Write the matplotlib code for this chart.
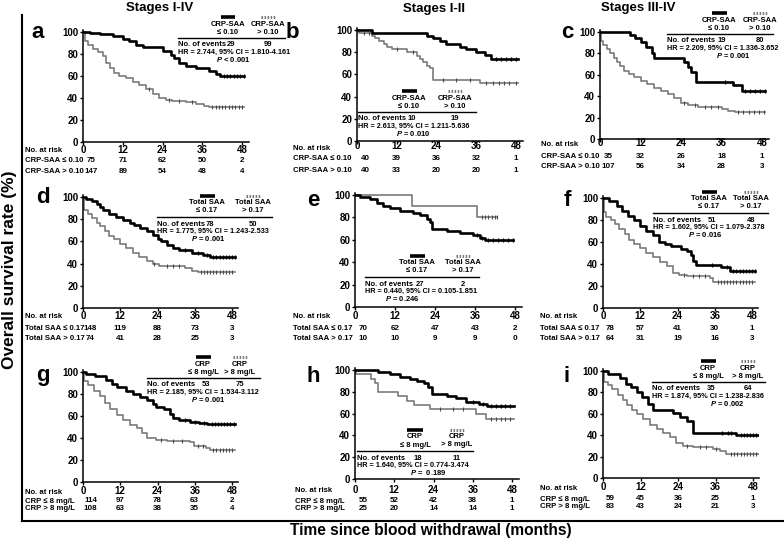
import matplotlib
matplotlib.use("Agg")
import matplotlib.pyplot as plt
from matplotlib.lines import Line2D
from matplotlib.transforms import blended_transform_factory

W, H = 784, 542
plt.rcParams["font.family"] = ["Liberation Sans", "DejaVu Sans"]
plt.rcParams["font.weight"] = "bold"
plt.rcParams["mathtext.fontset"] = "custom"
plt.rcParams["mathtext.it"] = "Liberation Sans:italic:bold"
plt.rcParams["mathtext.rm"] = "Liberation Sans:bold"

MONTHS = [0, 12, 24, 36, 48]
SURV_TICKS = [0, 20, 40, 60, 80, 100]

# ---------------------------------------------------------------------------
# Kaplan-Meier steps: time (months) where survival (%) drops, last = end
# ---------------------------------------------------------------------------
A_LOW_T = [0, 2, 5, 9, 12, 14, 16, 18, 24, 26.5, 27.5, 29, 31, 34, 38, 40, 41.5, 48.5]
A_LOW_S = [100, 99, 98, 96, 94, 92, 88, 86, 83, 79, 76, 72, 69, 67, 65, 62, 60, 60]
A_HIGH_T = [0, 0.5, 1.5, 3, 4.5, 6, 7, 8, 9.5, 11, 13, 15, 17, 19, 21, 23, 25, 27, 31, 34, 36.5, 38, 48.5]
A_HIGH_S = [100, 92, 88, 85, 82, 78, 72, 67, 63, 60, 58, 55, 52, 48, 44, 40, 38, 37, 36, 35, 33, 32, 32]
A_LOW_CENS = [42.5, 43.5, 44.5, 45.5, 46.5, 47.5, 48.5]
A_HIGH_CENS = [20, 26, 29, 33, 39, 40, 41, 42, 43, 44, 45, 46, 47, 48]

B_LOW_T = [0, 4.5, 21, 23, 25, 27, 31, 33, 36, 38.5, 40.5, 48.5]
B_LOW_S = [100, 97.5, 95, 92.5, 90, 87.5, 85, 82.5, 80, 77.5, 74, 74]
B_HIGH_T = [0, 0.5, 4.5, 5.5, 6.5, 8, 9, 10.5, 15, 18, 19, 20, 21, 22, 23, 37, 48.5]
B_HIGH_S = [100, 97.5, 95, 92.5, 90, 87.5, 85, 82.5, 80, 77, 74, 71, 68, 65.5, 55, 52, 52]
B_LOW_CENS = [42, 43.5, 45, 46.5, 48]
B_HIGH_CENS = [2, 3.5, 12, 17, 26, 30, 34, 39, 41, 43, 44.5, 46, 48]

C_LOW_T = [0, 9, 10.5, 12, 13.5, 15.5, 16, 25, 26, 27, 28.5, 39.5, 42, 49]
C_LOW_S = [100, 97, 94, 91, 86, 80, 76, 72, 67, 63, 53, 50, 45, 45]
C_HIGH_T = [0, 0.3, 1, 2, 3, 4, 5, 6, 7, 8.5, 10, 12, 14, 16, 18, 20, 22, 24, 26, 29, 36, 38, 40, 49]
C_HIGH_S = [100, 92, 88, 84, 80, 76, 72, 68, 64, 61, 58, 54, 51, 48, 45, 42, 38, 34, 32, 30, 28, 26, 25, 25]
C_LOW_CENS = [37, 43, 44.5, 46, 47.5, 49]
C_HIGH_CENS = [25, 28, 31, 33, 35, 41, 42.5, 44, 45.5, 47, 48.5]

D_LOW_T = [0, 1, 3, 4.5, 5.5, 6.5, 8.5, 10.5, 13, 15, 16.5, 18.5, 20.5, 22.5, 24, 25, 27, 29, 31, 35, 38.5, 41, 49]
D_LOW_S = [100, 98, 96, 94, 91, 88, 85, 82, 79, 77, 75, 72, 69, 66, 62, 60, 57, 54, 52, 50, 48, 46, 46]
D_HIGH_T = [0, 0.4, 1.5, 3, 4.5, 5.5, 7, 8.5, 10, 12, 14, 16, 18, 20.5, 22.5, 24.5, 33, 35, 37, 49]
D_HIGH_S = [100, 88, 85, 81, 77, 74, 69, 65, 62, 58, 54, 50, 46, 42, 40, 38, 36, 33, 32, 32]
D_LOW_CENS = [33, 37, 40, 42, 43, 44, 45, 46, 47, 48, 49]
D_HIGH_CENS = [23, 27, 29, 31, 38, 39, 40, 41, 42, 43, 44, 45, 46, 47, 48]

E_LOW_T = [0, 1.5, 4.5, 6.5, 8.5, 10.5, 13.5, 17.5, 19.5, 21.5, 22.5, 23, 27.5, 31.5, 35.5, 37.5, 39, 47.5]
E_LOW_S = [100, 98.5, 96, 93, 90, 88, 86, 84, 82, 79, 76, 70, 68, 66, 64, 62, 60, 60]
E_HIGH_T = [0, 17, 36.5, 42.5]
E_HIGH_S = [100, 90, 80, 80]
E_LOW_CENS = [36.5, 38, 40, 41.5, 43, 44.5, 46, 47.5]
E_HIGH_CENS = [38, 39, 40, 41, 42, 42.5]

F_LOW_T = [0, 2, 4.5, 6, 8, 10, 12, 14, 16, 18, 20, 22, 25, 27, 28.5, 29, 30, 38, 41, 49]
F_LOW_S = [100, 97, 93, 88, 84, 80, 75, 70, 66, 60, 58, 56, 54, 52, 48, 43, 39, 37, 34, 34]
F_HIGH_T = [0, 0.3, 1, 2.5, 4, 5, 7, 8.5, 10, 12, 14, 16, 18.5, 20.5, 22.5, 24.5, 27, 34.5, 35.5, 49]
F_HIGH_S = [100, 87, 83, 80, 76, 72, 67, 62, 58, 55, 50, 46, 42, 38, 32, 30, 29, 27, 24, 24]
F_LOW_CENS = [35, 40, 42, 43, 44, 45, 46, 47, 48, 49]
F_HIGH_CENS = [26, 29, 31, 33, 37, 38, 39, 40, 41, 42, 43, 44, 45, 46, 47, 48]

G_LOW_T = [0, 1, 4, 7.5, 9.5, 11, 14, 16, 18.5, 20.5, 22.5, 23.5, 26, 28, 29, 31, 34.5, 37.5, 40, 49]
G_LOW_S = [100, 98, 96, 93, 89, 86, 83, 80, 77, 75, 71, 68, 66, 62, 58, 56, 55, 54, 53, 53]
G_HIGH_T = [0, 0.4, 1.5, 3.4, 5.5, 7, 8.7, 10.8, 13, 15, 17.3, 19, 20.5, 23.5, 27, 34.5, 35.6, 39.5, 41, 49]
G_HIGH_S = [100, 92, 88, 83, 78, 72, 66, 61, 56, 52, 49, 45, 40, 38, 37, 36, 33, 31, 29, 29]
G_LOW_CENS = [33, 36, 39, 41.5, 42.5, 43.5, 44.5, 45.5, 46.5, 47.5, 48.5]
G_HIGH_CENS = [25, 29, 32, 37, 38.5, 42, 43, 44, 45, 46, 47, 48]

H_LOW_T = [0, 7, 10.7, 13.8, 16.8, 19, 21, 22.4, 23.5, 28, 31, 34, 38, 40.3, 48.5]
H_LOW_S = [100, 98, 96, 94, 92, 90, 88, 84, 78, 76, 74, 71, 69, 67, 67]
H_HIGH_T = [0, 0.2, 5, 6, 7, 13, 16, 18, 23, 37, 40, 48.5]
H_HIGH_S = [100, 96, 92, 88, 80, 76, 72, 68, 64, 60, 55, 55]
H_LOW_CENS = [36, 39, 41.5, 43, 44.5, 46, 47.5]
H_HIGH_CENS = [26, 30, 33, 41.5, 43, 44.5, 46, 47.5]

I_LOW_T = [0, 1.7, 5.4, 7.5, 9, 10.8, 12.4, 14.5, 16.1, 22.5, 24.6, 26.8, 28.9, 42.7, 50]
I_LOW_S = [100, 97, 93, 88, 85, 80, 76, 69, 64, 61, 57, 53, 42, 40, 40]
I_HIGH_T = [0, 0.3, 1.5, 3, 4.9, 6.5, 7.6, 9.2, 10.8, 12.9, 15, 17.2, 19.3, 21.4, 23.5, 25.6, 28.9, 35.3, 37.4, 39.5, 50]
I_HIGH_S = [100, 90, 87, 83, 78, 73, 68, 64, 60, 55, 50, 46, 42, 38, 33, 30, 29, 27, 25, 22, 22]
I_LOW_CENS = [38, 40, 41, 44, 45, 46, 47, 48, 49]
I_HIGH_CENS = [27, 31, 33, 36, 41, 42, 43, 44, 45, 46, 47, 48, 49]

# numbers at risk at 0, 12, 24, 36, 48 months
A_RISK = [[75, 71, 62, 50, 2], [147, 89, 54, 48, 4]]
B_RISK = [[40, 39, 36, 32, 1], [40, 33, 20, 20, 1]]
C_RISK = [[35, 32, 26, 18, 1], [107, 56, 34, 28, 3]]
D_RISK = [[148, 119, 88, 73, 3], [74, 41, 28, 25, 3]]
E_RISK = [[70, 62, 47, 43, 2], [10, 10, 9, 9, 0]]
F_RISK = [[78, 57, 41, 30, 1], [64, 31, 19, 16, 3]]
G_RISK = [[114, 97, 78, 63, 2], [108, 63, 38, 35, 4]]
H_RISK = [[55, 52, 42, 38, 1], [25, 20, 14, 14, 1]]
I_RISK = [[59, 45, 36, 25, 1], [83, 43, 24, 21, 3]]

EVENTS = {"a": (29, 99), "b": (10, 19), "c": (19, 80), "d": (78, 50), "e": (27, 2),
          "f": (51, 48), "g": (53, 75), "h": (18, 11), "i": (35, 64)}
HR_TEXT = {
    "a": "HR = 2.744, 95% CI = 1.810-4.161", "b": "HR = 2.613, 95% CI = 1.211-5.636",
    "c": "HR = 2.209, 95% CI = 1.336-3.652", "d": "HR = 1.775, 95% CI = 1.243-2.533",
    "e": "HR = 0.440, 95% CI = 0.105-1.851", "f": "HR = 1.602, 95% CI = 1.079-2.378",
    "g": "HR = 2.185, 95% CI = 1.534-3.112", "h": "HR = 1.640, 95% CI = 0.774-3.474",
    "i": "HR = 1.874, 95% CI = 1.238-2.836",
}
P_TEXT = {"a": "< 0.001", "b": "= 0.010", "c": "= 0.001", "d": "= 0.001", "e": "= 0.246",
          "f": "= 0.016", "g": "= 0.001", "h": "=  0.189", "i": "= 0.002"}

MARKERS = [("CRP-SAA", "\u2264 0.10", "> 0.10"), ("Total SAA", "\u2264 0.17", "> 0.17"),
           ("CRP", "\u2264 8 mg/L", "> 8 mg/L")]
STAGES = ["Stages I-IV", "Stages I-II", "Stages III-IV"]

# ---------------------------------------------------------------------------
# Layout (pixels)
# ---------------------------------------------------------------------------
XMAX, YMAX = 50, 102
# x at 0 mo, x at 48 mo, y at 0 %, y at 100 %, x tick label pad
GEOM = {"a": (83, 242, 142, 32, -0.5), "b": (357, 516, 141, 30, -2.5),
        "c": (600, 762, 139, 32, -3.5), "d": (83, 232, 308, 197, -0.5),
        "e": (355, 515, 307, 195, 0.5), "f": (603, 752, 308, 198, -0.5),
        "g": (83, 232, 482, 372, 0.5), "h": (355, 512, 479, 370, 1.5),
        "i": (603, 753, 478, 371, 0.5)}
# risk table: label x, y of "No. at risk", row 1, row 2
RISK_POS = {"a": (25, 151, 160.5, 171), "b": (293, 149, 159, 170), "c": (541, 145, 156, 166),
            "d": (25, 317, 329, 339), "e": (293, 317, 328, 339), "f": (540, 317, 329, 339),
            "g": (25, 492, 501, 509), "h": (295, 490, 501, 508), "i": (540, 488, 499, 507)}
# legend: rule x0, rule x1, rule y, col1 x, col2 x, P x
LEG_POS = {"a": (178, 285, 38, 228, 268, 233), "b": (358, 476, 112, 409, 455, 413),
           "c": (667, 773, 34, 719, 760, 733), "d": (157, 272, 217, 207, 253, 208),
           "e": (365, 479, 277, 417, 463, 402), "f": (653, 768, 213, 709, 751, 705),
           "g": (147, 260, 378, 203, 240, 208), "h": (357, 473, 451, 415, 457, 428),
           "i": (652, 765, 382, 708, 748, 727)}
LETTER_POS = {"a": (38, 33), "b": (292, 33), "c": (567, 33), "d": (43, 198), "e": (313, 200),
              "f": (567, 200), "g": (43, 375), "h": (313, 377), "i": (567, 377)}

LOW_COLOR = "black"
HIGH_COLOR = "#7a7a7a"
LEG_FS = 5.5
HR_FS = 5.2
RISK_FS = 5.6
NUM_FS = 5.8


def fx(px):
    return px / W


def fy(py):
    return 1 - py / H


fig = plt.figure(figsize=(W / 100, H / 100), dpi=100)


def fig_line(x0, x1, y0, y1, **kw):
    fig.add_artist(Line2D([fx(x0), fx(x1)], [fy(y0), fy(y1)], transform=fig.transFigure, **kw))


def fig_text(x, y, s, **kw):
    kw.setdefault("fontsize", LEG_FS)
    kw.setdefault("va", "center")
    kw.setdefault("fontweight", "bold")
    fig.text(fx(x), fy(y), s, **kw)


def surv_at(t, times, surv):
    val = surv[0]
    for ti, si in zip(times, surv):
        if ti <= t:
            val = si
    return val


def draw_panel(key, low, high, cens, risk, marker):
    x0, x48, y0, y100, xpad = GEOM[key]
    w = (x48 - x0) * XMAX / 48
    h = (y0 - y100) * YMAX / 100
    ax = fig.add_axes([fx(x0), fy(y0), w / W, h / H])
    ax.set_xlim(0, XMAX)
    ax.set_ylim(0, YMAX)

    ax.step(high[0], high[1], where="post", color=HIGH_COLOR, lw=1.2)
    ax.step(low[0], low[1], where="post", color=LOW_COLOR, lw=1.9)
    ax.plot(cens[1], [surv_at(t, *high) for t in cens[1]], ls="none", marker="|",
            ms=2.5, mew=0.8, color="#4a4a4a")
    ax.plot(cens[0], [surv_at(t, *low) for t in cens[0]], ls="none", marker="|",
            ms=3, mew=0.9, color="black")

    for side in ("top", "right"):
        ax.spines[side].set_visible(False)
    for side in ("left", "bottom"):
        ax.spines[side].set_linewidth(1.1)
    ax.set_xticks(MONTHS)
    ax.set_yticks(SURV_TICKS)
    ax.tick_params(direction="out", length=2.5, width=1, labelsize=7)
    ax.tick_params(axis="x", pad=xpad)
    ax.tick_params(axis="y", pad=1)
    for lab in ax.get_xticklabels() + ax.get_yticklabels():
        lab.set_fontweight("bold")

    # risk table
    lx, ry0, ry1, ry2 = RISK_POS[key]
    name, lo_txt, hi_txt = marker
    fig_text(lx, ry0, "No. at risk", ha="left", fontsize=RISK_FS)
    fig_text(lx, ry1, f"{name} {lo_txt}", ha="left", fontsize=RISK_FS)
    fig_text(lx, ry2, f"{name} {hi_txt}", ha="left", fontsize=RISK_FS)
    tr = blended_transform_factory(ax.transData, fig.transFigure)
    for row, ry in zip(risk, (ry1, ry2)):
        for m, n in zip(MONTHS, row):
            xm = m + 2.4 if m == 0 else m
            ax.text(xm, fy(ry), str(n), transform=tr, ha="center", va="center",
                    fontsize=NUM_FS, fontweight="bold")

    # legend block
    rx0, rx1, ry, c1, c2, px = LEG_POS[key]
    fig_line(c1 - 7.5, c1 + 7.5, ry - 21, ry - 21, color="black", lw=2.6, solid_capstyle="butt")
    fig_line(c2 - 7, c2 + 7, ry - 21, ry - 21, color=HIGH_COLOR, lw=2.2, ls=(0, (0.5, 0.5)))
    fig_text(c1, ry - 14, name, ha="center")
    fig_text(c2, ry - 14, name, ha="center")
    fig_text(c1, ry - 6, lo_txt, ha="center")
    fig_text(c2, ry - 6, hi_txt, ha="center")
    fig_line(rx0, rx1, ry, ry, color="black", lw=1.0)
    ev1, ev2 = EVENTS[key]
    fig_text(rx0, ry + 7, "No. of events", ha="left")
    fig_text(c1 + 3, ry + 7, str(ev1), ha="center")
    fig_text(c2, ry + 7, str(ev2), ha="center")
    fig_text(rx0, ry + 14, HR_TEXT[key], ha="left", fontsize=HR_FS)
    fig_text(px, ry + 21.5, "$P$ " + P_TEXT[key], ha="center")

    lx_, ly_ = LETTER_POS[key]
    fig_text(lx_, ly_, key, ha="center", fontsize=16)
    return ax


panels = [
    ("a", (A_LOW_T, A_LOW_S), (A_HIGH_T, A_HIGH_S), (A_LOW_CENS, A_HIGH_CENS), A_RISK, 0),
    ("b", (B_LOW_T, B_LOW_S), (B_HIGH_T, B_HIGH_S), (B_LOW_CENS, B_HIGH_CENS), B_RISK, 0),
    ("c", (C_LOW_T, C_LOW_S), (C_HIGH_T, C_HIGH_S), (C_LOW_CENS, C_HIGH_CENS), C_RISK, 0),
    ("d", (D_LOW_T, D_LOW_S), (D_HIGH_T, D_HIGH_S), (D_LOW_CENS, D_HIGH_CENS), D_RISK, 1),
    ("e", (E_LOW_T, E_LOW_S), (E_HIGH_T, E_HIGH_S), (E_LOW_CENS, E_HIGH_CENS), E_RISK, 1),
    ("f", (F_LOW_T, F_LOW_S), (F_HIGH_T, F_HIGH_S), (F_LOW_CENS, F_HIGH_CENS), F_RISK, 1),
    ("g", (G_LOW_T, G_LOW_S), (G_HIGH_T, G_HIGH_S), (G_LOW_CENS, G_HIGH_CENS), G_RISK, 2),
    ("h", (H_LOW_T, H_LOW_S), (H_HIGH_T, H_HIGH_S), (H_LOW_CENS, H_HIGH_CENS), H_RISK, 2),
    ("i", (I_LOW_T, I_LOW_S), (I_HIGH_T, I_HIGH_S), (I_LOW_CENS, I_HIGH_CENS), I_RISK, 2),
]
for key, low, high, cens, risk, mi in panels:
    draw_panel(key, low, high, cens, risk, MARKERS[mi])

# column titles, frame and shared axis labels
for title, (tx, ty) in zip(STAGES, [(160, 8), (434, 9), (638, 8)]):
    fig_text(tx, ty, title, ha="center", fontsize=9.5)
fig_line(22, 22, 15, 521, color="black", lw=1.5)
fig_line(22, 784, 521, 521, color="black", lw=1.5)
fig_text(10, 270, "Overall survival rate (%)", ha="center", rotation=90, fontsize=12.5)
fig_text(431, 531, "Time since blood withdrawal (months)", ha="center", fontsize=11.2)

fig.savefig("out.png", dpi=100)
